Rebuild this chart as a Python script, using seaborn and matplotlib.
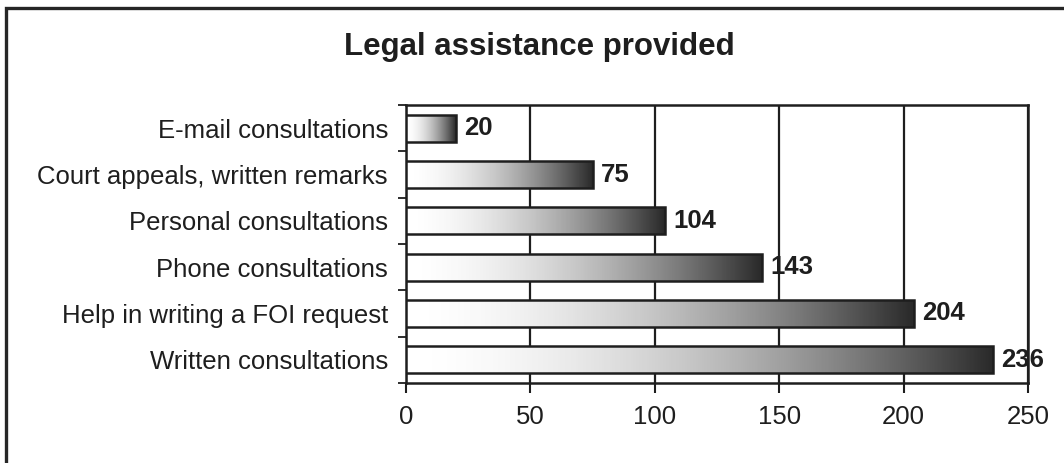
import numpy as np
import pandas as pd
import matplotlib.pyplot as plt
import seaborn as sns
from matplotlib.colors import LinearSegmentedColormap
from matplotlib.patches import Rectangle

# Data
categories = ['E-mail consultations', 'Court appeals, written remarks',
              'Personal consultations', 'Phone consultations',
              'Help in writing a FOI request', 'Written consultations']
counts = [20, 75, 104, 143, 204, 236]
x_ticks = [0, 50, 100, 150, 200, 250]

df = pd.DataFrame({'category': categories, 'count': counts})

sns.set_theme(style='white')
plt.rcParams['font.family'] = ['Liberation Sans', 'DejaVu Sans']

ink = '#1e1e1e'

fig = plt.figure(figsize=(10.64, 4.63), dpi=100)
ax = fig.add_axes([406 / 1064, 1 - 383 / 463, (1028 - 406) / 1064, (383 - 105) / 463])

sns.barplot(data=df, x='count', y='category', ax=ax, width=0.58,
            color='white', edgecolor=ink, linewidth=1.8, zorder=4)

# gradient fill inside each bar, white on the left to dark grey on the right
shade = LinearSegmentedColormap.from_list('shade', ['#ffffff', '#2a2a2a'])
grad = np.linspace(0, 1, 256) ** 1.8
for bar in ax.patches:
    x0, y0 = bar.get_x(), bar.get_y()
    w, h = bar.get_width(), bar.get_height()
    ax.imshow(grad[None, :], cmap=shade, vmin=0, vmax=1, aspect='auto',
              extent=(x0, x0 + w, y0 + h, y0), zorder=3, interpolation='bilinear')
    bar.set_facecolor('none')

ax.set_xlim(0, 250)
ax.set_ylim(len(categories) - 0.5, -0.5)

# value labels
ax.bar_label(ax.containers[0], labels=[str(v) for v in counts], padding=6,
             fontweight='bold', fontsize=18.5, color=ink)

# grid and spines
ax.set_xticks(x_ticks)
ax.xaxis.grid(True, color=ink, linewidth=1.6)
ax.set_axisbelow(True)
for s in ax.spines.values():
    s.set_visible(True)
    s.set_color(ink)
    s.set_linewidth(1.8)

ax.tick_params(axis='x', bottom=True, direction='out', length=7, width=1.5,
               color=ink, labelsize=18.5, labelcolor=ink, pad=9)
ax.set_yticks(np.arange(-0.5, len(categories)), minor=True)
ax.tick_params(axis='y', which='minor', left=True, direction='out', length=6,
               width=1.3, color=ink)
ax.tick_params(axis='y', which='major', left=False, length=0, labelsize=18.5,
               labelcolor=ink, pad=13)
ax.set_xlabel('')
ax.set_ylabel('')

fig.text(539 / 1064, 1 - 47 / 463, 'Legal assistance provided', ha='center',
         va='center', fontsize=22.5, fontweight='bold', color=ink)

# outer chart frame (only top and left edges show in the crop)
fig.add_artist(Rectangle((6 / 1064, -0.2), 1.5, 1.2 - 8 / 463,
                         transform=fig.transFigure, fill=False,
                         linewidth=2.4, edgecolor='#262626'))

fig.savefig('out.png', dpi=100)
